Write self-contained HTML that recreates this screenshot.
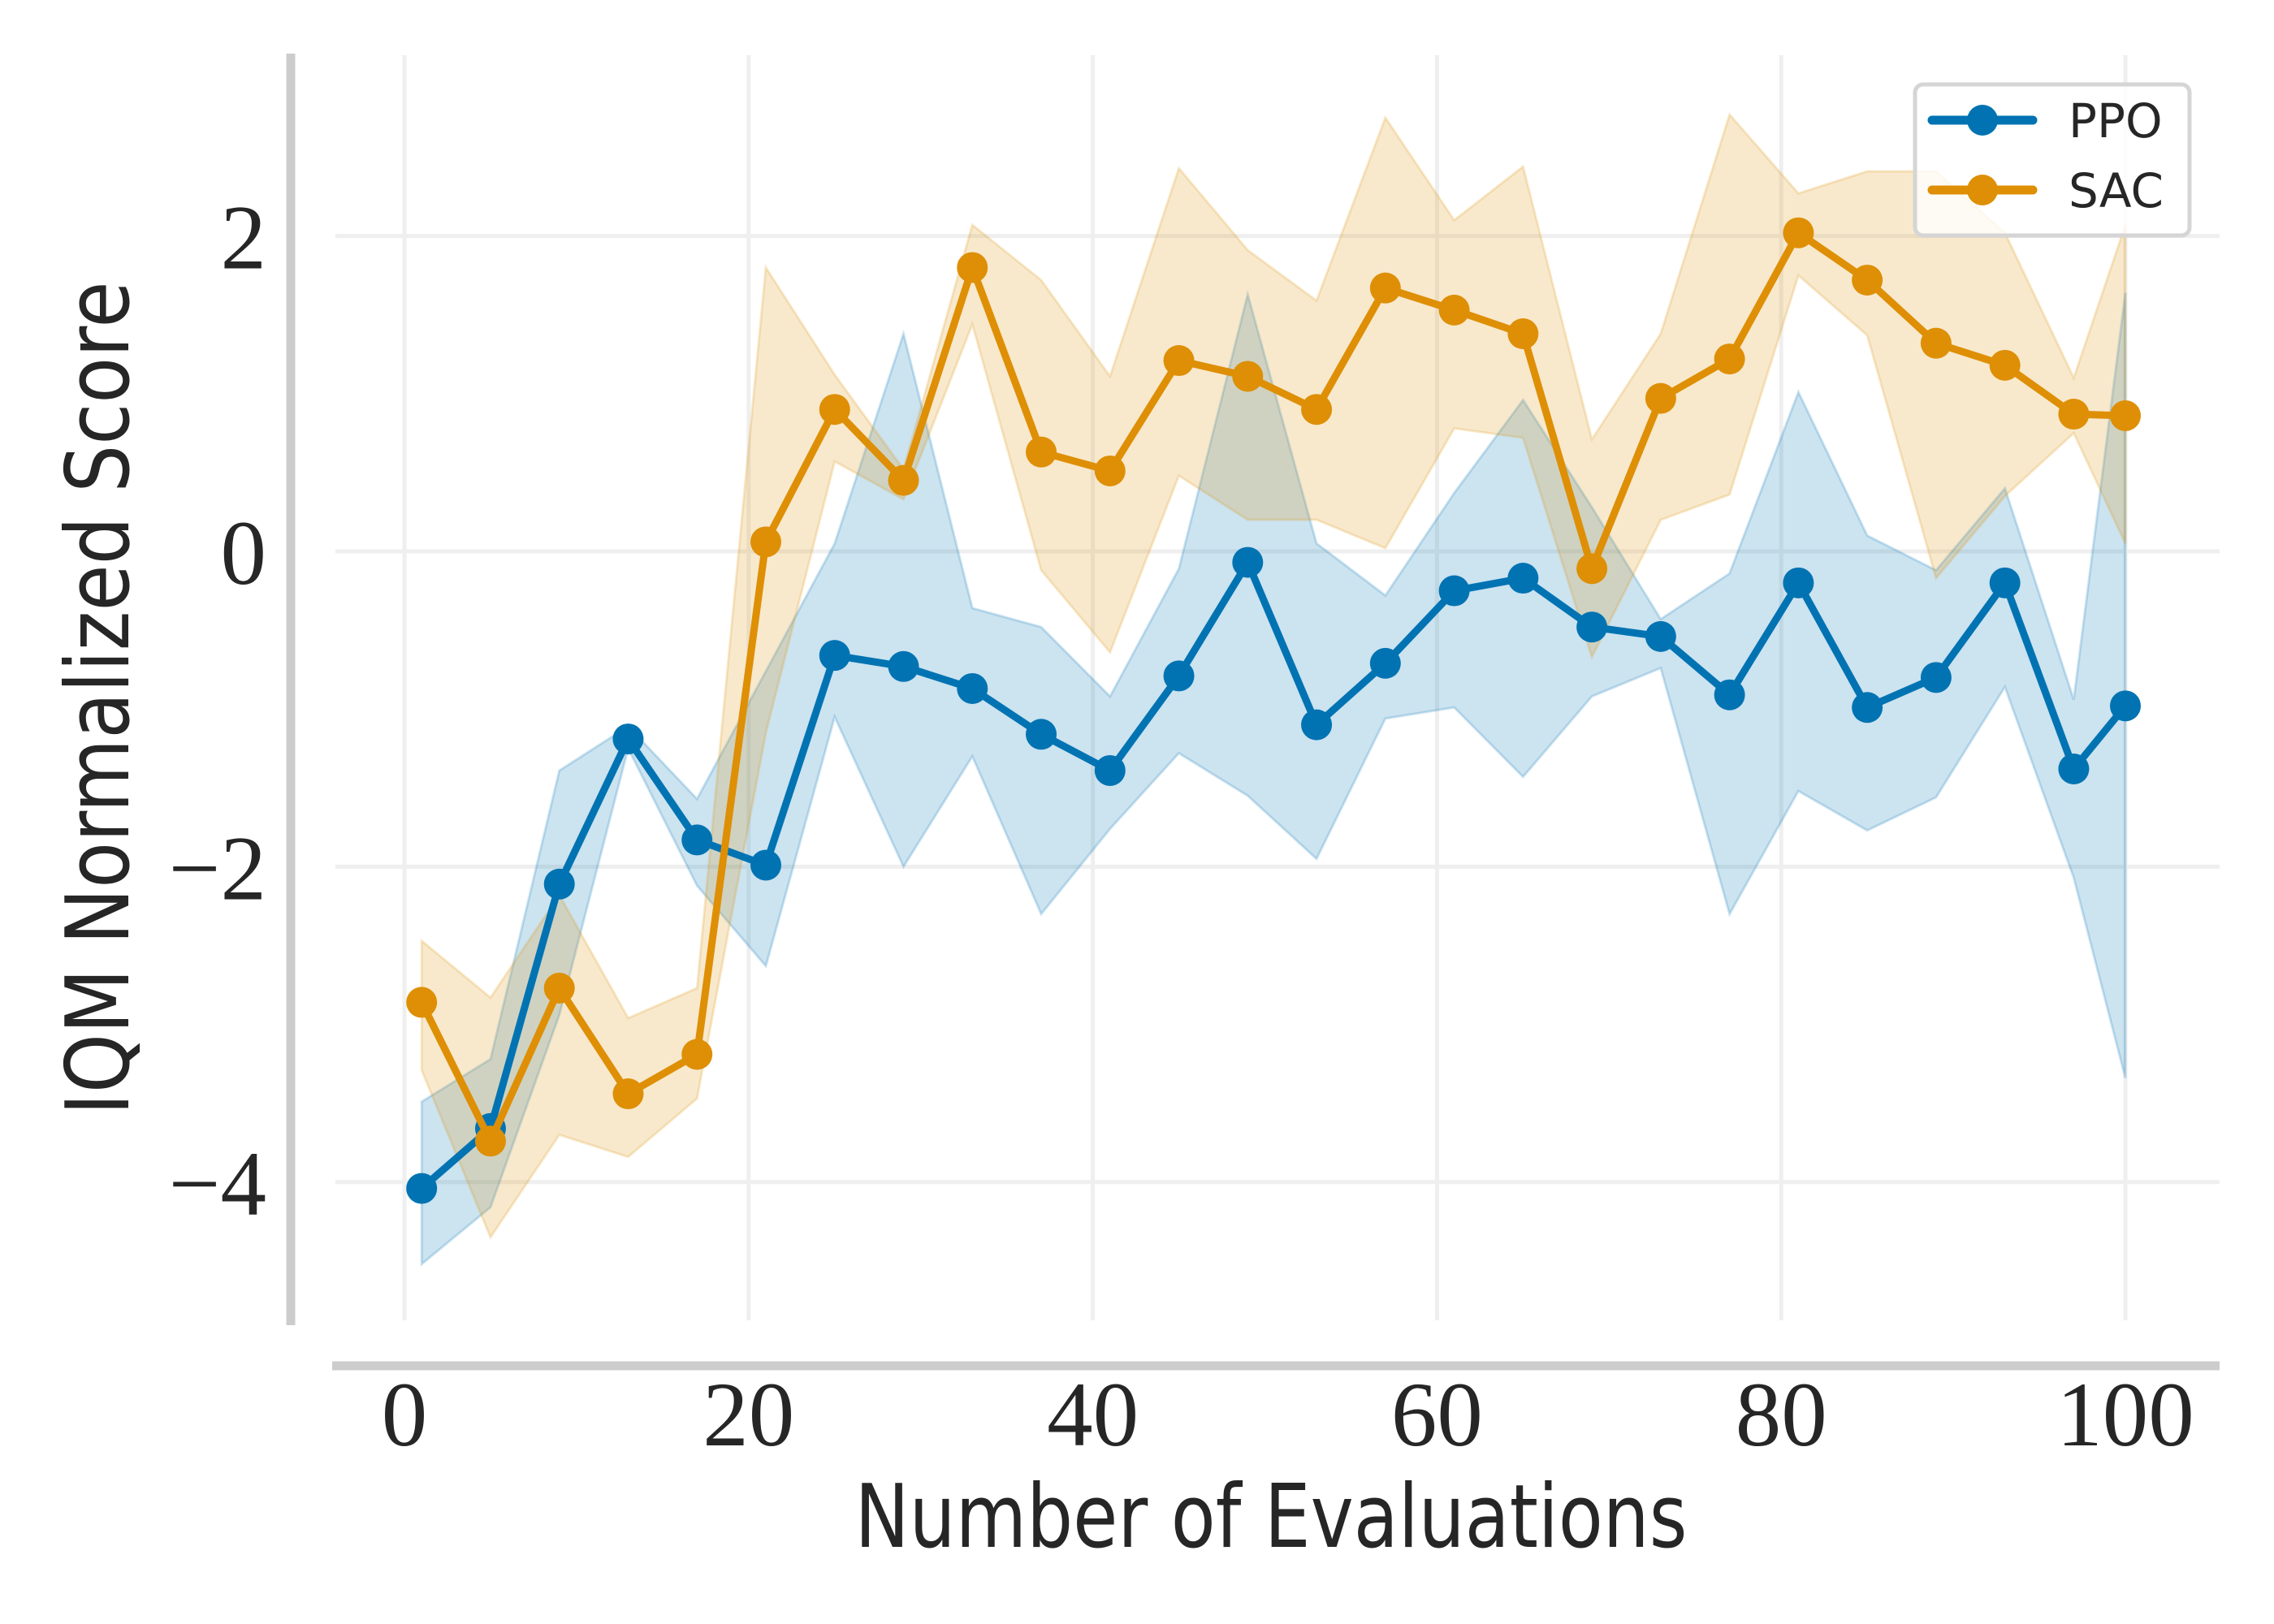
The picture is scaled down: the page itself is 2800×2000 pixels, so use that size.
<!DOCTYPE html>
<html><head><meta charset="utf-8"><style>
html,body{margin:0;padding:0;background:#fff;}
svg{display:block;}
</style></head><body>
<svg id="chart" width="2800" height="2000" xmlns="http://www.w3.org/2000/svg"></svg>
<script>
const xs = [1,5,9,13,17,21,25,29,33,37,41,45,49,53,57,61,65,69,73,77,81,85,89,93,97,100];
const ppoMean = [-4.04,-3.66,-2.11,-1.19,-1.83,-1.99,-0.66,-0.73,-0.87,-1.16,-1.39,-0.79,-0.07,-1.10,-0.71,-0.25,-0.17,-0.48,-0.54,-0.91,-0.20,-0.99,-0.80,-0.20,-1.38,-0.98];
const ppoUpper = [-3.49,-3.22,-1.39,-1.11,-1.57,-0.76,0.05,1.38,-0.36,-0.48,-0.92,-0.11,1.63,0.05,-0.28,0.37,0.96,0.28,-0.43,-0.14,1.01,0.10,-0.12,0.40,-0.94,1.64];
const ppoLower = [-4.52,-4.16,-2.94,-1.25,-2.12,-2.63,-1.05,-2.00,-1.30,-2.30,-1.76,-1.28,-1.55,-1.95,-1.06,-0.99,-1.43,-0.92,-0.74,-2.30,-1.52,-1.77,-1.56,-0.86,-2.07,-3.34];
const sacMean = [-2.86,-3.74,-2.77,-3.44,-3.19,0.06,0.90,0.45,1.80,0.63,0.51,1.21,1.11,0.90,1.67,1.53,1.38,-0.11,0.97,1.22,2.02,1.72,1.32,1.18,0.87,0.86];
const sacUpper = [-2.47,-2.83,-2.18,-2.96,-2.77,1.80,1.12,0.52,2.07,1.72,1.11,2.43,1.91,1.59,2.75,2.10,2.44,0.71,1.38,2.77,2.27,2.41,2.41,2.02,1.10,2.07];
const sacLower = [-3.29,-4.35,-3.70,-3.84,-3.47,-1.15,0.57,0.33,1.44,-0.12,-0.64,0.48,0.20,0.20,0.02,0.78,0.72,-0.67,0.20,0.36,1.75,1.37,-0.17,0.35,0.75,0.05];
const xTicks = [0,20,40,60,80,100];
const yTicks = [-4,-2,0,2];
const yTickLabels = ["\u22124","\u22122","0","2"];

const NS="http://www.w3.org/2000/svg";
const svg=document.getElementById('chart');
function X(v){return 498+v*21.19;}
function Y(v){return 679-v*194.2;}
function mk(tag,attrs,parent){const e=document.createElementNS(NS,tag);for(const k in attrs)e.setAttribute(k,attrs[k]);(parent||svg).appendChild(e);return e;}

// grid
xTicks.forEach(t=>{
  const g=mk('line',{x1:X(t),x2:X(t),y1:68,y2:1626,stroke:'#efefef','stroke-width':5});
  
  
});
yTicks.forEach(t=>{
  const g=mk('line',{x1:413,x2:2733,y1:Y(t),y2:Y(t),stroke:'#efefef','stroke-width':5});
  
  
});

function band(up,lo,color,name){
  let d='M'+xs.map((x,i)=>X(x)+','+Y(up[i])).join(' L');
  for(let i=xs.length-1;i>=0;i--)d+=' L'+X(xs[i])+','+Y(lo[i]);
  d+=' Z';
  const p=mk('path',{d:d,fill:color,'fill-opacity':0.2,stroke:color,'stroke-opacity':0.2,'stroke-width':3});
  
  
}
function series(m,color,name){
  const l=mk('polyline',{points:xs.map((x,i)=>X(x)+','+Y(m[i])).join(' '),fill:'none',stroke:color,'stroke-width':9,'stroke-linejoin':'round'});
  
  
  xs.forEach((x,i)=>{
    const c=mk('circle',{cx:X(x),cy:Y(m[i]),r:19,fill:color});
    
    
  });
}
band(ppoUpper,ppoLower,'#0173b2','ppo-confidence-band');
band(sacUpper,sacLower,'#de8f05','sac-confidence-band');
series(ppoMean,'#0173b2','ppo');
series(sacMean,'#de8f05','sac');

// spines
let s=mk('line',{x1:358,x2:358,y1:66,y2:1632,stroke:'#cccccc','stroke-width':11});

s=mk('line',{x1:409,x2:2733,y1:1682,y2:1682,stroke:'#cccccc','stroke-width':11});


// tick labels
xTicks.forEach(t=>{
  const e=mk('text',{x:X(t),y:1780,'text-anchor':'middle','font-family':'Liberation Serif, serif','font-size':113,fill:'#262626'});
  e.textContent=t;
  
  
});
yTicks.forEach((t,i)=>{
  const e=mk('text',{x:328,y:Y(t)+40,'text-anchor':'end','font-family':'Liberation Serif, serif','font-size':113,fill:'#262626'});
  e.textContent=yTickLabels[i];
  
  
});

// axis titles
let t=mk('text',{x:1565,y:1905,'text-anchor':'middle','font-family':'DejaVu Sans, sans-serif','font-size':108,fill:'#262626',textLength:1025,lengthAdjust:'spacingAndGlyphs'});
t.textContent='Number of Evaluations';

t=mk('text',{x:0,y:0,'text-anchor':'middle','font-family':'DejaVu Sans, sans-serif','font-size':108,fill:'#262626',textLength:1027,lengthAdjust:'spacingAndGlyphs',transform:'translate(158,860) rotate(-90)'});
t.textContent='IQM Normalized Score';


// legend
const lg=mk('g',{});

mk('rect',{x:2358,y:104,width:338,height:186,rx:10,fill:'#ffffff','fill-opacity':0.8,stroke:'#d5d5d5','stroke-width':5},lg);
[['PPO','#0173b2',148],['SAC','#de8f05',234]].forEach(([n,c,y])=>{
  const g=mk('g',{},lg);
  
  
  mk('line',{x1:2379,x2:2503,y1:y,y2:y,stroke:c,'stroke-width':11,'stroke-linecap':'round'},g);
  mk('circle',{cx:2441,cy:y,r:19,fill:c},g);
  const tx=mk('text',{x:2547,y:y+21,'font-family':'DejaVu Sans, sans-serif','font-size':58,fill:'#262626'},g);
  tx.textContent=n;
});
</script>
</body></html>
